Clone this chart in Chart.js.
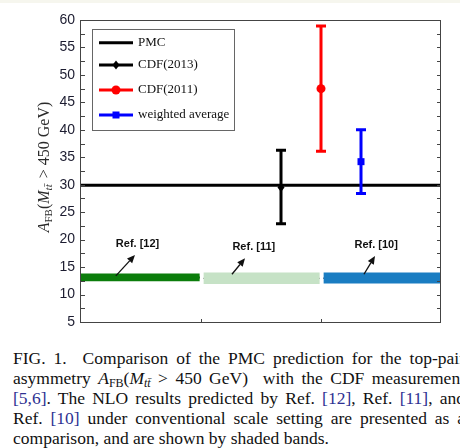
<!DOCTYPE html>
<html><head><meta charset="utf-8">
<script src="https://cdn.jsdelivr.net/npm/chart.js@4"></script>
<style>
html,body{margin:0;padding:0;background:#fff;width:460px;height:448px;overflow:hidden;position:relative}
#strip{position:absolute;left:0;top:0;width:460px;height:3px;background:#f6f6ee}
#wrap{position:absolute;left:0;top:0;width:460px;height:340px}
#cap{position:absolute;left:13px;top:348px;font-family:"Liberation Serif","Times New Roman",serif;font-size:17.5px;color:#111}
.ln{height:20px;line-height:20px;width:452px;overflow:visible}
.j{text-align:justify;text-align-last:justify}
.c{color:#2e3192}
sub{font-size:12px;line-height:0;vertical-align:-3px}
</style></head>
<body>
<div id="strip"></div>
<div id="wrap"><canvas id="c" width="460" height="340"></canvas></div>
<div id="cap">
<div class="ln j">FIG. 1.&nbsp; Comparison of the PMC prediction for the top-pair</div>
<div class="ln j">asymmetry <i>A</i><sub>FB</sub>(<i>M</i><sub><i>tt̄</i></sub> &gt; 450 GeV)&nbsp; with the CDF measurement</div>
<div class="ln j"><span class="c">[5,6]</span>. The NLO results predicted by Ref. <span class="c">[12]</span>, Ref. <span class="c">[11]</span>, and</div>
<div class="ln j">Ref. <span class="c">[10]</span> under conventional scale setting are presented as a</div>
<div class="ln">comparison, and are shown by shaded bands.</div>
</div>
<script>
// ---- data ----
const seriesNames = ['PMC', 'CDF(2013)', 'CDF(2011)', 'weighted average'];
const pmcValue = 29.9;
const measX = [5/3, 2, 7/3];
const measCentral = [29.5, 47.5, 34.2];
const measLow = [22.9, 36.1, 28.4];
const measHigh = [36.3, 58.9, 40.0];
const bandRefs = ['Ref. [12]', 'Ref. [11]', 'Ref. [10]'];
const bandCentral = [13.1, 12.95, 12.95];
const bandLow = [12.4, 11.9, 12.0];
const bandHigh = [13.85, 14.0, 14.0];
const yTicks = [5, 10, 15, 20, 25, 30, 35, 40, 45, 50, 55, 60];

// ---- layout / styles (not data) ----
const bandSpan = [[0, 0.99], [1.02, 1.99], [2.02, 3]];
const bandFill = ['#0b7d0b', '#c6e2c6', '#1a7dc2'];
const bandLine = ['#024a02', '#4a4a4a', '#0b2f55'];
const bandLineW = [2, 1, 1.5];
const measColor = ['#000000', '#ff0000', '#0000ff'];
const measMarker = ['diamond', 'circle', 'square'];
const annot = [ // label position and arrow tail/head in data coords
  {lx: 0.471, ly: 19.15, tx: 0.29, ty: 13.4, hx: 0.45, hy: 17.2},
  {lx: 1.44, ly: 18.6, tx: 1.258, ty: 13.7, hx: 1.367, hy: 16.6},
  {lx: 2.46, ly: 19.0, tx: 2.358, ty: 13.7, hx: 2.45, hy: 17.0}
];

const datasets = [];
for (let i = 0; i < 3; i++) {
  datasets.push({data: [{x: bandSpan[i][0], y: bandHigh[i]}, {x: bandSpan[i][1], y: bandHigh[i]}],
    showLine: true, borderWidth: 0, pointRadius: 0, fill: false, borderColor: 'rgba(0,0,0,0)'});
  datasets.push({data: [{x: bandSpan[i][0], y: bandLow[i]}, {x: bandSpan[i][1], y: bandLow[i]}],
    showLine: true, borderWidth: 0, pointRadius: 0, fill: '-1', backgroundColor: bandFill[i], borderColor: 'rgba(0,0,0,0)'});
  datasets.push({data: [{x: bandSpan[i][0], y: bandCentral[i]}, {x: bandSpan[i][1], y: bandCentral[i]}],
    showLine: true, borderWidth: bandLineW[i], pointRadius: 0, borderColor: bandLine[i], fill: false});
}
datasets.push({label: seriesNames[0], data: [{x: 0, y: pmcValue}, {x: 3, y: pmcValue}],
  showLine: true, borderWidth: 3, pointRadius: 0, borderColor: '#000', fill: false});

function marker(ctx, kind, x, y, color) {
  ctx.fillStyle = color;
  ctx.beginPath();
  if (kind === 'circle') { ctx.arc(x, y, 4.5, 0, Math.PI * 2); }
  else if (kind === 'square') { ctx.rect(x - 3.5, y - 3.5, 7, 7); }
  else { ctx.moveTo(x, y - 4.5); ctx.lineTo(x + 3.5, y); ctx.lineTo(x, y + 4.5); ctx.lineTo(x - 3.5, y); ctx.closePath(); }
  ctx.fill();
}

const customDraw = {
  id: 'customDraw',
  afterDatasetsDraw(chart) {
    const ctx = chart.ctx, xs = chart.scales.x, ys = chart.scales.y, a = chart.chartArea;
    ctx.save();
    // error bars
    for (let i = 0; i < measX.length; i++) {
      const px = xs.getPixelForValue(measX[i]);
      const pl = ys.getPixelForValue(measLow[i]), ph = ys.getPixelForValue(measHigh[i]);
      ctx.strokeStyle = measColor[i]; ctx.lineWidth = 3; ctx.lineCap = 'butt';
      ctx.beginPath();
      ctx.moveTo(px, pl); ctx.lineTo(px, ph);
      ctx.moveTo(px - 5, pl); ctx.lineTo(px + 5, pl);
      ctx.moveTo(px - 5, ph); ctx.lineTo(px + 5, ph);
      ctx.stroke();
      marker(ctx, measMarker[i], px, ys.getPixelForValue(measCentral[i]), measColor[i]);
    }
    // annotations
    ctx.font = 'bold 11px "Liberation Sans", Arial, sans-serif';
    ctx.textAlign = 'center'; ctx.textBaseline = 'middle'; ctx.fillStyle = '#111';
    for (let i = 0; i < annot.length; i++) {
      const an = annot[i];
      ctx.fillText(bandRefs[i], xs.getPixelForValue(an.lx), ys.getPixelForValue(an.ly));
      const tx = xs.getPixelForValue(an.tx), ty = ys.getPixelForValue(an.ty);
      const hx = xs.getPixelForValue(an.hx), hy = ys.getPixelForValue(an.hy);
      const ang = Math.atan2(hy - ty, hx - tx), L = 8, W = 3.5;
      const bx = hx - L * Math.cos(ang), by = hy - L * Math.sin(ang);
      ctx.strokeStyle = '#111'; ctx.lineWidth = 1.3;
      ctx.beginPath(); ctx.moveTo(tx, ty); ctx.lineTo(bx, by); ctx.stroke();
      ctx.beginPath();
      ctx.moveTo(hx, hy);
      ctx.lineTo(bx + W * Math.sin(ang), by - W * Math.cos(ang));
      ctx.lineTo(bx - W * Math.sin(ang), by + W * Math.cos(ang));
      ctx.closePath(); ctx.fill();
    }
    // frame & ticks
    ctx.strokeStyle = '#444'; ctx.lineWidth = 1;
    ctx.strokeRect(Math.round(a.left) - 0.5, Math.round(a.top) + 0.5, Math.round(a.right - a.left), Math.round(a.bottom - a.top));
    ctx.beginPath();
    for (let v = 5; v <= 60.01; v += 2.5) {
      const py = Math.round(ys.getPixelForValue(v)) + 0.5;
      ctx.moveTo(a.left, py); ctx.lineTo(a.left + 4, py);
      ctx.moveTo(a.right, py); ctx.lineTo(a.right - 4, py);
    }
    [1, 2].forEach(v => { const px = Math.round(xs.getPixelForValue(v)) + 0.5; ctx.moveTo(px, a.bottom); ctx.lineTo(px, a.bottom - 3); });
    ctx.stroke();
    // legend
    const lx0 = 92, ly0 = 29, lw = 142, lh = 101;
    ctx.fillStyle = '#fff'; ctx.fillRect(lx0, ly0, lw, lh);
    ctx.strokeStyle = '#666'; ctx.strokeRect(lx0 + 0.5, ly0 + 0.5, lw, lh);
    const rows = [42.7, 65, 90, 115];
    const rowColors = ['#000', '#000', '#ff0000', '#0000ff'];
    const rowMarkers = [null, 'diamond', 'circle', 'square'];
    ctx.font = '13px "Liberation Serif", "Times New Roman", serif';
    ctx.textAlign = 'left'; ctx.textBaseline = 'middle';
    for (let i = 0; i < 4; i++) {
      const y = rows[i];
      ctx.strokeStyle = rowColors[i]; ctx.lineWidth = 3;
      ctx.beginPath(); ctx.moveTo(99, y); ctx.lineTo(133, y); ctx.stroke();
      if (rowMarkers[i]) marker(ctx, rowMarkers[i], 116, y, rowColors[i]);
      ctx.fillStyle = '#111';
      ctx.fillText(seriesNames[i], 138, y);
    }
    // y-axis title
    const segs = [
      {t: 'A', f: 'italic 16px "Liberation Serif", serif', dy: 0},
      {t: 'FB', f: '11px "Liberation Serif", serif', dy: 3},
      {t: '(', f: '16px "Liberation Serif", serif', dy: 0},
      {t: 'M', f: 'italic 16px "Liberation Serif", serif', dy: 0},
      {t: 'tt\u0304', f: 'italic 11px "Liberation Serif", serif', dy: 3},
      {t: ' > 450 GeV)', f: '16px "Liberation Serif", serif', dy: 0}
    ];
    let W = 0;
    segs.forEach(s => { ctx.font = s.f; s.w = ctx.measureText(s.t).width; W += s.w; });
    ctx.translate(49, 168); ctx.rotate(-Math.PI / 2);
    ctx.fillStyle = '#2a2a2a'; ctx.textBaseline = 'alphabetic'; ctx.textAlign = 'left';
    let x = -W / 2;
    segs.forEach(s => { ctx.font = s.f; ctx.fillText(s.t, x, s.dy); x += s.w + (s.t === 'tt\u0304' ? 2 : 0); });
    ctx.restore();
  }
};

new Chart(document.getElementById('c'), {
  type: 'scatter',
  data: {datasets},
  options: {
    responsive: false, animation: false, devicePixelRatio: 1,
    layout: {padding: {left: 0, right: 19, top: 20, bottom: 18}},
    plugins: {legend: {display: false}, tooltip: {enabled: false}},
    scales: {
      x: {type: 'linear', min: 0, max: 3, display: false},
      y: {type: 'linear', min: 5, max: 60,
        afterFit(s) { s.width = 81; },
        afterBuildTicks(s) { s.ticks = yTicks.map(v => ({value: v})); },
        grid: {display: false, drawTicks: false}, border: {display: false},
        ticks: {padding: 6, color: '#1c1c30', font: {family: '"Liberation Sans", Arial, sans-serif', size: 14}}
      }
    }
  },
  plugins: [customDraw]
});
</script>
</body></html>
